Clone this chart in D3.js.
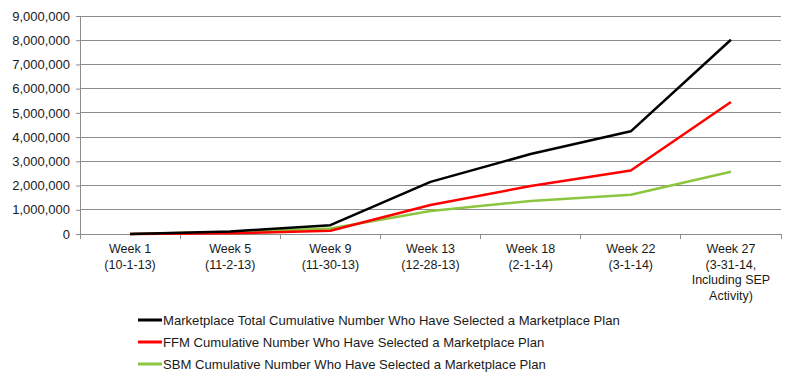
<!DOCTYPE html>
<html>
<head>
<meta charset="utf-8">
<script src="https://cdn.jsdelivr.net/npm/d3@7"></script>
<style>
  body { margin: 0; background: #fff; }
  svg { font-family: "Liberation Sans", Arial, sans-serif; }
</style>
</head>
<body>
<div id="chart"></div>
<script>
// week labels (each array = lines of the label)
const weeks = [
  ["Week 1", "(10-1-13)"],
  ["Week 5", "(11-2-13)"],
  ["Week 9", "(11-30-13)"],
  ["Week 13", "(12-28-13)"],
  ["Week 18", "(2-1-14)"],
  ["Week 22", "(3-1-14)"],
  ["Week 27", "(3-31-14,", "Including SEP", "Activity)"]
];
const totalValues = [0, 106185, 364682, 2153421, 3300000, 4240000, 8019763];
const ffmValues = [0, 26794, 137204, 1200000, 1980000, 2620000, 5450000];
const sbmValues = [0, 79391, 227478, 953421, 1360000, 1620000, 2570000];
const seriesNames = [
  "Marketplace Total Cumulative Number Who Have Selected a Marketplace Plan",
  "FFM Cumulative Number Who Have Selected a Marketplace Plan",
  "SBM Cumulative Number Who Have Selected a Marketplace Plan"
];
const seriesColors = ["#000000", "#ff0000", "#8cc63f"];
const yTicks = d3.range(0, 9000001, 1000000);

const width = 800, height = 381;
const margin = { top: 16, right: 19, bottom: 147, left: 80 };
const w = width - margin.left - margin.right,
  h = height - margin.top - margin.bottom;

const svg = d3.select("#chart").append("svg")
  .attr("width", width).attr("height", height);
const g = svg.append("g")
  .attr("transform", `translate(${margin.left},${margin.top})`);

const x = d3.scaleBand().domain(d3.range(weeks.length)).range([0, w]);
const y = d3.scaleLinear().domain([0, 9000000]).range([h, 0]);

// gridlines
g.append("g").selectAll("line").data(yTicks.slice(1)).enter().append("line")
  .attr("x1", 0).attr("x2", w)
  .attr("y1", d => y(d)).attr("y2", d => y(d))
  .attr("stroke", "#8c8c8c").attr("stroke-width", 1)
  .attr("shape-rendering", "crispEdges");

// y axis
const yAxis = g.append("g")
  .call(d3.axisLeft(y).tickValues(yTicks).tickSize(4).tickPadding(6)
    .tickFormat(d3.format(",")));
yAxis.select(".domain").attr("stroke", "#8c8c8c");
yAxis.selectAll(".tick line").attr("stroke", "#8c8c8c");
yAxis.selectAll("text").attr("font-size", 13).attr("fill", "#1a1a1a")
  .attr("font-family", "Liberation Sans, Arial, sans-serif");

// x axis
const xAxis = g.append("g").attr("transform", `translate(0,${h})`);
xAxis.append("line").attr("x1", 0).attr("x2", w)
  .attr("stroke", "#8c8c8c").attr("shape-rendering", "crispEdges");
xAxis.selectAll(".xt").data(d3.range(weeks.length + 1)).enter().append("line")
  .attr("x1", d => d * x.bandwidth()).attr("x2", d => d * x.bandwidth())
  .attr("y1", 0).attr("y2", 5)
  .attr("stroke", "#8c8c8c").attr("shape-rendering", "crispEdges");
const lbl = xAxis.selectAll(".xl").data(weeks).enter().append("text")
  .attr("text-anchor", "middle")
  .attr("font-size", 12.5).attr("fill", "#1a1a1a")
  .attr("transform", (d, i) => `translate(${x(i) + x.bandwidth() / 2},19)`);
lbl.selectAll("tspan").data(d => d).enter().append("tspan")
  .attr("x", 0).attr("dy", (d, i) => i === 0 ? 0 : 15.5)
  .text(d => d);

// lines
const allSeries = [totalValues, ffmValues, sbmValues];
const line = d3.line()
  .x((d, i) => x(i) + x.bandwidth() / 2)
  .y(d => y(d));
[2, 1, 0].forEach(k => {
  g.append("path").datum(allSeries[k])
    .attr("fill", "none").attr("stroke", seriesColors[k])
    .attr("stroke-width", 2.5).attr("stroke-linejoin", "round")
    .attr("d", line);
});

// legend
const legend = svg.append("g").attr("transform", "translate(138,320)");
seriesNames.forEach((name, i) => {
  const row = legend.append("g").attr("transform", `translate(0,${i * 22})`);
  row.append("line").attr("x1", 0).attr("x2", 24)
    .attr("stroke", seriesColors[i]).attr("stroke-width", 3);
  row.append("text").attr("x", 25).attr("y", 5)
    .attr("font-size", 13.1).attr("fill", "#1a1a1a")
    .text(name);
});
</script>
</body>
</html>
